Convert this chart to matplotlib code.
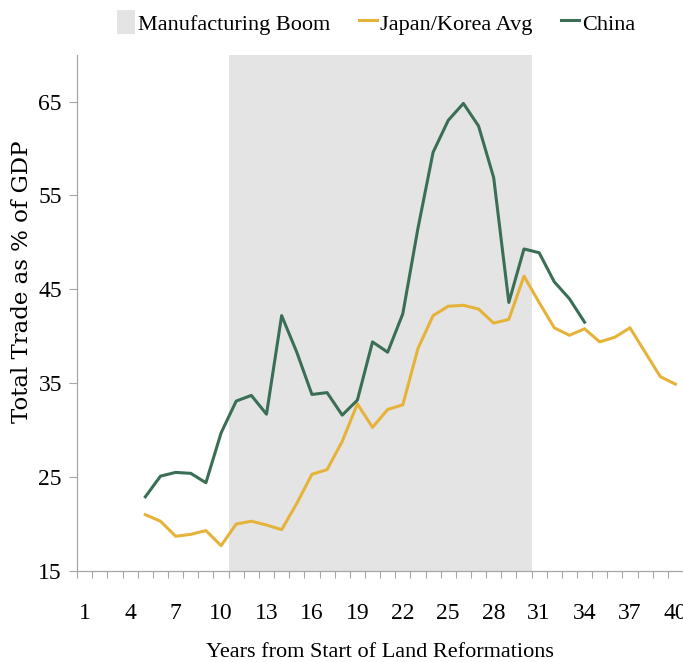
import matplotlib
matplotlib.use("Agg")
import matplotlib.pyplot as plt
from matplotlib.patches import Patch
from matplotlib.lines import Line2D
from matplotlib.ticker import FixedLocator

plt.rcParams['font.family'] = ['Liberation Serif', 'DejaVu Serif']

china_years = list(range(5, 35))
china = [22.9, 25.1, 25.5, 25.4, 24.4, 29.7, 33.1, 33.7, 31.7, 42.2,
         38.3, 33.8, 34.0, 31.6, 33.2, 39.4, 38.3, 42.4, 51.5, 59.6,
         63.0, 64.8, 62.4, 56.9, 43.6, 49.3, 48.9, 45.8, 44.0, 41.5]

jk_years = list(range(5, 41))
jk = [21.0, 20.3, 18.7, 18.9, 19.3, 17.7, 20.0, 20.3, 19.9, 19.4,
      22.2, 25.3, 25.8, 28.8, 32.8, 30.3, 32.2, 32.7, 38.7, 42.2,
      43.2, 43.3, 42.9, 41.4, 41.8, 46.4, 43.6, 40.9, 40.1, 40.8,
      39.4, 39.9, 40.9, 38.3, 35.7, 34.9]

boom_start, boom_end = 10.5, 30.5
x_labels = list(range(1, 41, 3))
y_ticks = [15, 25, 35, 45, 55, 65]

green = '#3A6F56'
gold = '#E6B33A'
shade = '#E4E4E4'
axis_grey = '#A6A6A6'

fig = plt.figure(figsize=(6.83, 6.62), dpi=100)
ax = fig.add_axes([0.113, 0.1375, 0.887, 0.78])

ax.axvspan(boom_start, boom_end, color=shade, lw=0, zorder=0)
ax.plot(jk_years, jk, color=gold, lw=2.2, zorder=2)
ax.plot(china_years, china, color=green, lw=2.2, zorder=3)

ax.set_xlim(0.5, 40.5)
ax.set_ylim(15, 70)
ax.set_yticks(y_ticks)
ax.set_xticks(x_labels)
ax.set_xticklabels([str(v) for v in x_labels])
ax.xaxis.set_minor_locator(FixedLocator([i + 0.5 for i in range(0, 41)]))
ax.tick_params(axis='x', which='major', length=0, pad=23, labelsize=17)
ax.tick_params(axis='x', which='minor', length=5, color=axis_grey, width=0.8)
ax.tick_params(axis='y', which='major', length=6, color=axis_grey, width=0.8, labelsize=17, pad=5)

for s in ['top', 'right']:
    ax.spines[s].set_visible(False)
for s in ['left', 'bottom']:
    ax.spines[s].set_color(axis_grey)
    ax.spines[s].set_linewidth(0.9)

ax.set_xlabel('Years from Start of Land Reformations', fontsize=16, labelpad=14)
ax.set_ylabel('Total Trade as % of GDP', fontsize=16.5, family=['DejaVu Serif'],
              va='center')
ax.yaxis.set_label_coords(-0.091, 0.56)

handles = [Patch(facecolor=shade, edgecolor='none', label='Manufacturing Boom'),
           Line2D([], [], color=gold, lw=2.2, label='Japan/Korea Avg'),
           Line2D([], [], color=green, lw=2.2, label='China')]
fig.legend(handles=handles, loc='upper center', bbox_to_anchor=(0.551, 1.015), ncol=3,
           frameon=False, fontsize=16, handlelength=0.8, handletextpad=0.15,
           columnspacing=1.3, handleheight=1.3)

fig.savefig('out.png', dpi=100)
